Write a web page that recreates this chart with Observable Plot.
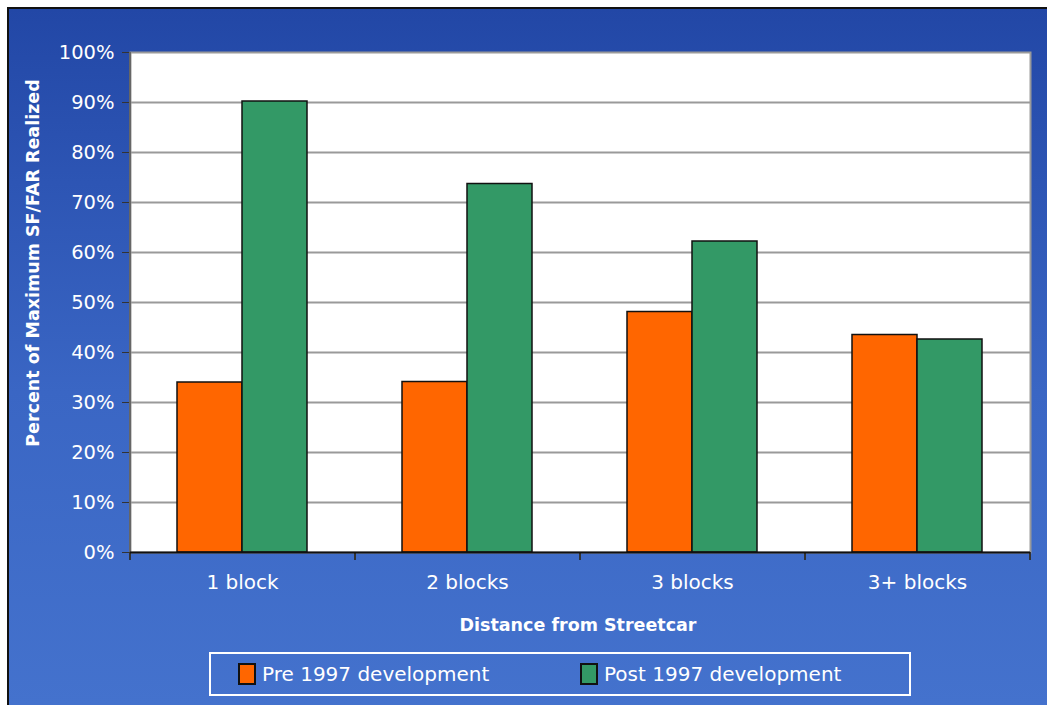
<!DOCTYPE html>
<html>
<head>
<meta charset="utf-8">
<script src="https://cdn.jsdelivr.net/npm/d3@7"></script>
<script src="https://cdn.jsdelivr.net/npm/@observablehq/plot@0.6"></script>
<style>
  html, body { margin: 0; padding: 0; background: #fff; }
  #page { position: relative; width: 1047px; height: 705px; overflow: hidden; background: #fff; font-family: "DejaVu Sans", sans-serif; }
  #bg { position: absolute; left: 7px; top: 7px; right: 0; bottom: 0;
        border-top: 2px solid #111; border-left: 2px solid #111;
        background: linear-gradient(to bottom, #2247a6 0%, #2d55b4 25%, #3a66c4 55%, #4472cd 100%); }
  #chart { position: absolute; left: 0; top: 0; }
  .ylab { position: absolute; left: 33px; top: 263px; transform: translate(-50%, -50%) rotate(-90deg);
          color: #fff; font-weight: bold; font-size: 17.5px; white-space: nowrap; }
  .xlab { position: absolute; left: 578px; top: 625px; transform: translate(-50%, -50%);
          color: #fff; font-weight: bold; font-size: 17.5px; white-space: nowrap; }
  #legend { position: absolute; left: 209px; top: 652px; width: 698px; height: 40px;
            border: 2px solid #fff; color: #fff; font-size: 20px; }
  .item { position: absolute; top: 8px; display: flex; align-items: center; white-space: nowrap; }
  .sw { width: 18px; height: 22px; border: 2px solid #111; margin-right: 6px; box-sizing: border-box; }
</style>
</head>
<body>
<div id="page">
  <div id="bg"></div>
  <div id="chart"></div>
  <div class="ylab">Percent of Maximum SF/FAR Realized</div>
  <div class="xlab">Distance from Streetcar</div>
  <div id="legend"></div>
</div>
<script>
const categories = ["1 block", "2 blocks", "3 blocks", "3+ blocks"];
const seriesNames = ["Pre 1997 development", "Post 1997 development"];
const pre1997 = [34.0, 34.1, 48.1, 43.5];
const post1997 = [90.2, 73.7, 62.2, 42.6];
const yTicks = [0, 10, 20, 30, 40, 50, 60, 70, 80, 90, 100];
const colors = ["#ff6600", "#339966"];

const preData = categories.map((c, i) => ({category: c, value: pre1997[i]}));
const postData = categories.map((c, i) => ({category: c, value: post1997[i]}));

const plot = Plot.plot({
  width: 1047,
  height: 600,
  marginLeft: 130,
  marginRight: 17,
  marginTop: 52,
  marginBottom: 48,
  style: {background: "transparent", fontFamily: "DejaVu Sans, sans-serif", overflow: "visible"},
  x: {domain: categories, paddingInner: 0.4222, paddingOuter: 0.2111, label: null},
  y: {domain: [0, 100], label: null},
  marks: [
    Plot.frame({fill: "white", stroke: "#9a9a9a", strokeWidth: 2}),
    Plot.gridY(yTicks.filter(d => d > 0 && d < 100), {stroke: "#9a9a9a", strokeOpacity: 1, strokeWidth: 2}),
    Plot.barY(preData, {x: "category", y: "value", fill: colors[0], stroke: "#111", strokeWidth: 1.5, insetRight: 65}),
    Plot.barY(postData, {x: "category", y: "value", fill: colors[1], stroke: "#111", strokeWidth: 1.5, insetLeft: 65}),
    Plot.axisY(yTicks, {tickSize: 8, tickPadding: 8, stroke: "#333", fill: "white", fontSize: 19.5, tickFormat: d => d + "%"}),
    Plot.axisX({tickSize: 0, tickPadding: 22, fill: "white", fontSize: 20}),
    Plot.ruleX(categories, {x: d => d, y1: 0, y2: 0, dx: -112.5, insetBottom: -8, stroke: "#333", strokeWidth: 2}),
    Plot.ruleX(categories.slice(-1), {x: d => d, y1: 0, y2: 0, dx: 112.5, insetBottom: -8, stroke: "#333", strokeWidth: 2}),
    Plot.ruleX(categories.slice(0, 1), {x: d => d, y1: 0, y2: 100, dx: -112.5, stroke: "#666", strokeWidth: 2}),
    Plot.ruleY([0], {stroke: "#111", strokeWidth: 2})
  ]
});
document.getElementById("chart").appendChild(plot);

const legend = document.getElementById("legend");
const lefts = [27, 369];
seriesNames.forEach((name, i) => {
  const item = document.createElement("div");
  item.className = "item";
  item.style.left = lefts[i] + "px";
  const sw = document.createElement("div");
  sw.className = "sw";
  sw.style.background = colors[i];
  const t = document.createElement("span");
  t.textContent = name;
  item.appendChild(sw);
  item.appendChild(t);
  legend.appendChild(item);
});
</script>
</body>
</html>
